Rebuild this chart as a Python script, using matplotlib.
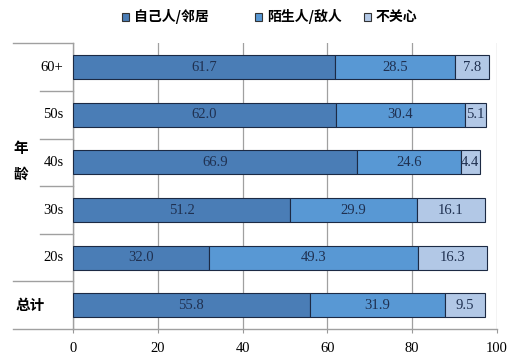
import matplotlib
matplotlib.use("Agg")
import matplotlib.pyplot as plt
import matplotlib.transforms as mtransforms
from matplotlib.patches import Rectangle
import numpy as np

plt.rcParams['font.family'] = ['Liberation Serif', 'Noto Sans CJK SC']

groups = ['60+', '50s', '40s', '30s', '20s', '总计']
own = [61.7, 62.0, 66.9, 51.2, 32.0, 55.8]
stranger = [28.5, 30.4, 24.6, 29.9, 49.3, 31.9]
indiff = [7.8, 5.1, 4.4, 16.1, 16.3, 9.5]
series_names = ['自己人/邻居', '陌生人/敌人', '不关心']
colors = ['#4a7db6', '#5898d4', '#b2c8e6']

W, H = 521, 357
fig = plt.figure(figsize=(W / 100, H / 100), dpi=100)
ax = fig.add_axes([0.140, 0.078, 0.814, 0.801])

y = np.arange(len(groups))
left = np.zeros(len(groups))
for vals, c in zip([own, stranger, indiff], colors):
    ax.barh(y, vals, left=left, height=0.5, color=c,
            edgecolor='#1c2a44', linewidth=0.8, zorder=3)
    for yi, l, v in zip(y, left, vals):
        ax.text(l + v / 2, yi, f'{v:.1f}', ha='center', va='center',
                fontsize=10.5, color='#1f3050', zorder=4)
    left = left + np.array(vals)

ax.set_xlim(0, 100)
ax.set_ylim(len(groups) - 0.5, -0.5)
ax.set_xticks([0, 20, 40, 60, 80, 100])
ax.tick_params(axis='x', labelsize=10.5, length=3, color='#999999', pad=6)
ax.set_yticks([])
ax.grid(axis='x', color='#a0a0a0', linewidth=0.9, zorder=0)
for s in ['top', 'right']:
    ax.spines[s].set_visible(False)
for s in ['left', 'bottom']:
    ax.spines[s].set_color('#a0a0a0')
    ax.spines[s].set_linewidth(1.0)

# category labels and separators on the left
trans = mtransforms.blended_transform_factory(ax.transAxes, ax.transData)
for i, g in enumerate(groups[:-1]):
    ax.text(-0.022, i, g, transform=trans, ha='right', va='center', fontsize=10.5)
ax.text(-0.100, len(groups) - 1, groups[-1], transform=trans, ha='center',
        va='center', fontsize=10.5, fontweight='bold', family='Noto Sans CJK SC')
ax.text(-0.124, 1.7, '年', transform=trans, ha='center', va='center',
        fontsize=10.5, fontweight='bold', family='Noto Sans CJK SC')
ax.text(-0.124, 2.25, '龄', transform=trans, ha='center', va='center',
        fontsize=10.5, fontweight='bold', family='Noto Sans CJK SC')

for b in np.arange(len(groups) + 1) - 0.5:
    x0 = -0.142 if b in (-0.5, len(groups) - 1.5, len(groups) - 0.5) else -0.078
    ax.plot([x0, 0], [b, b], transform=trans, color='#a0a0a0', linewidth=1.0,
            clip_on=False)

# legend, placed by hand to match the uneven spacing
leg_x = [122, 255, 364]
leg_y = 17
for lx, name, c in zip(leg_x, series_names, colors):
    fig.patches.append(Rectangle(((lx) / W, 1 - (leg_y + 3.5) / H), 7 / W, 7 / H,
                                 facecolor=c, edgecolor='#333333', linewidth=0.8,
                                 transform=fig.transFigure))
    fig.text((lx + 12) / W, 1 - leg_y / H, name, ha='left', va='center',
             fontsize=10, fontweight='bold', family='Noto Sans CJK SC')

fig.savefig('out.png', dpi=100)
